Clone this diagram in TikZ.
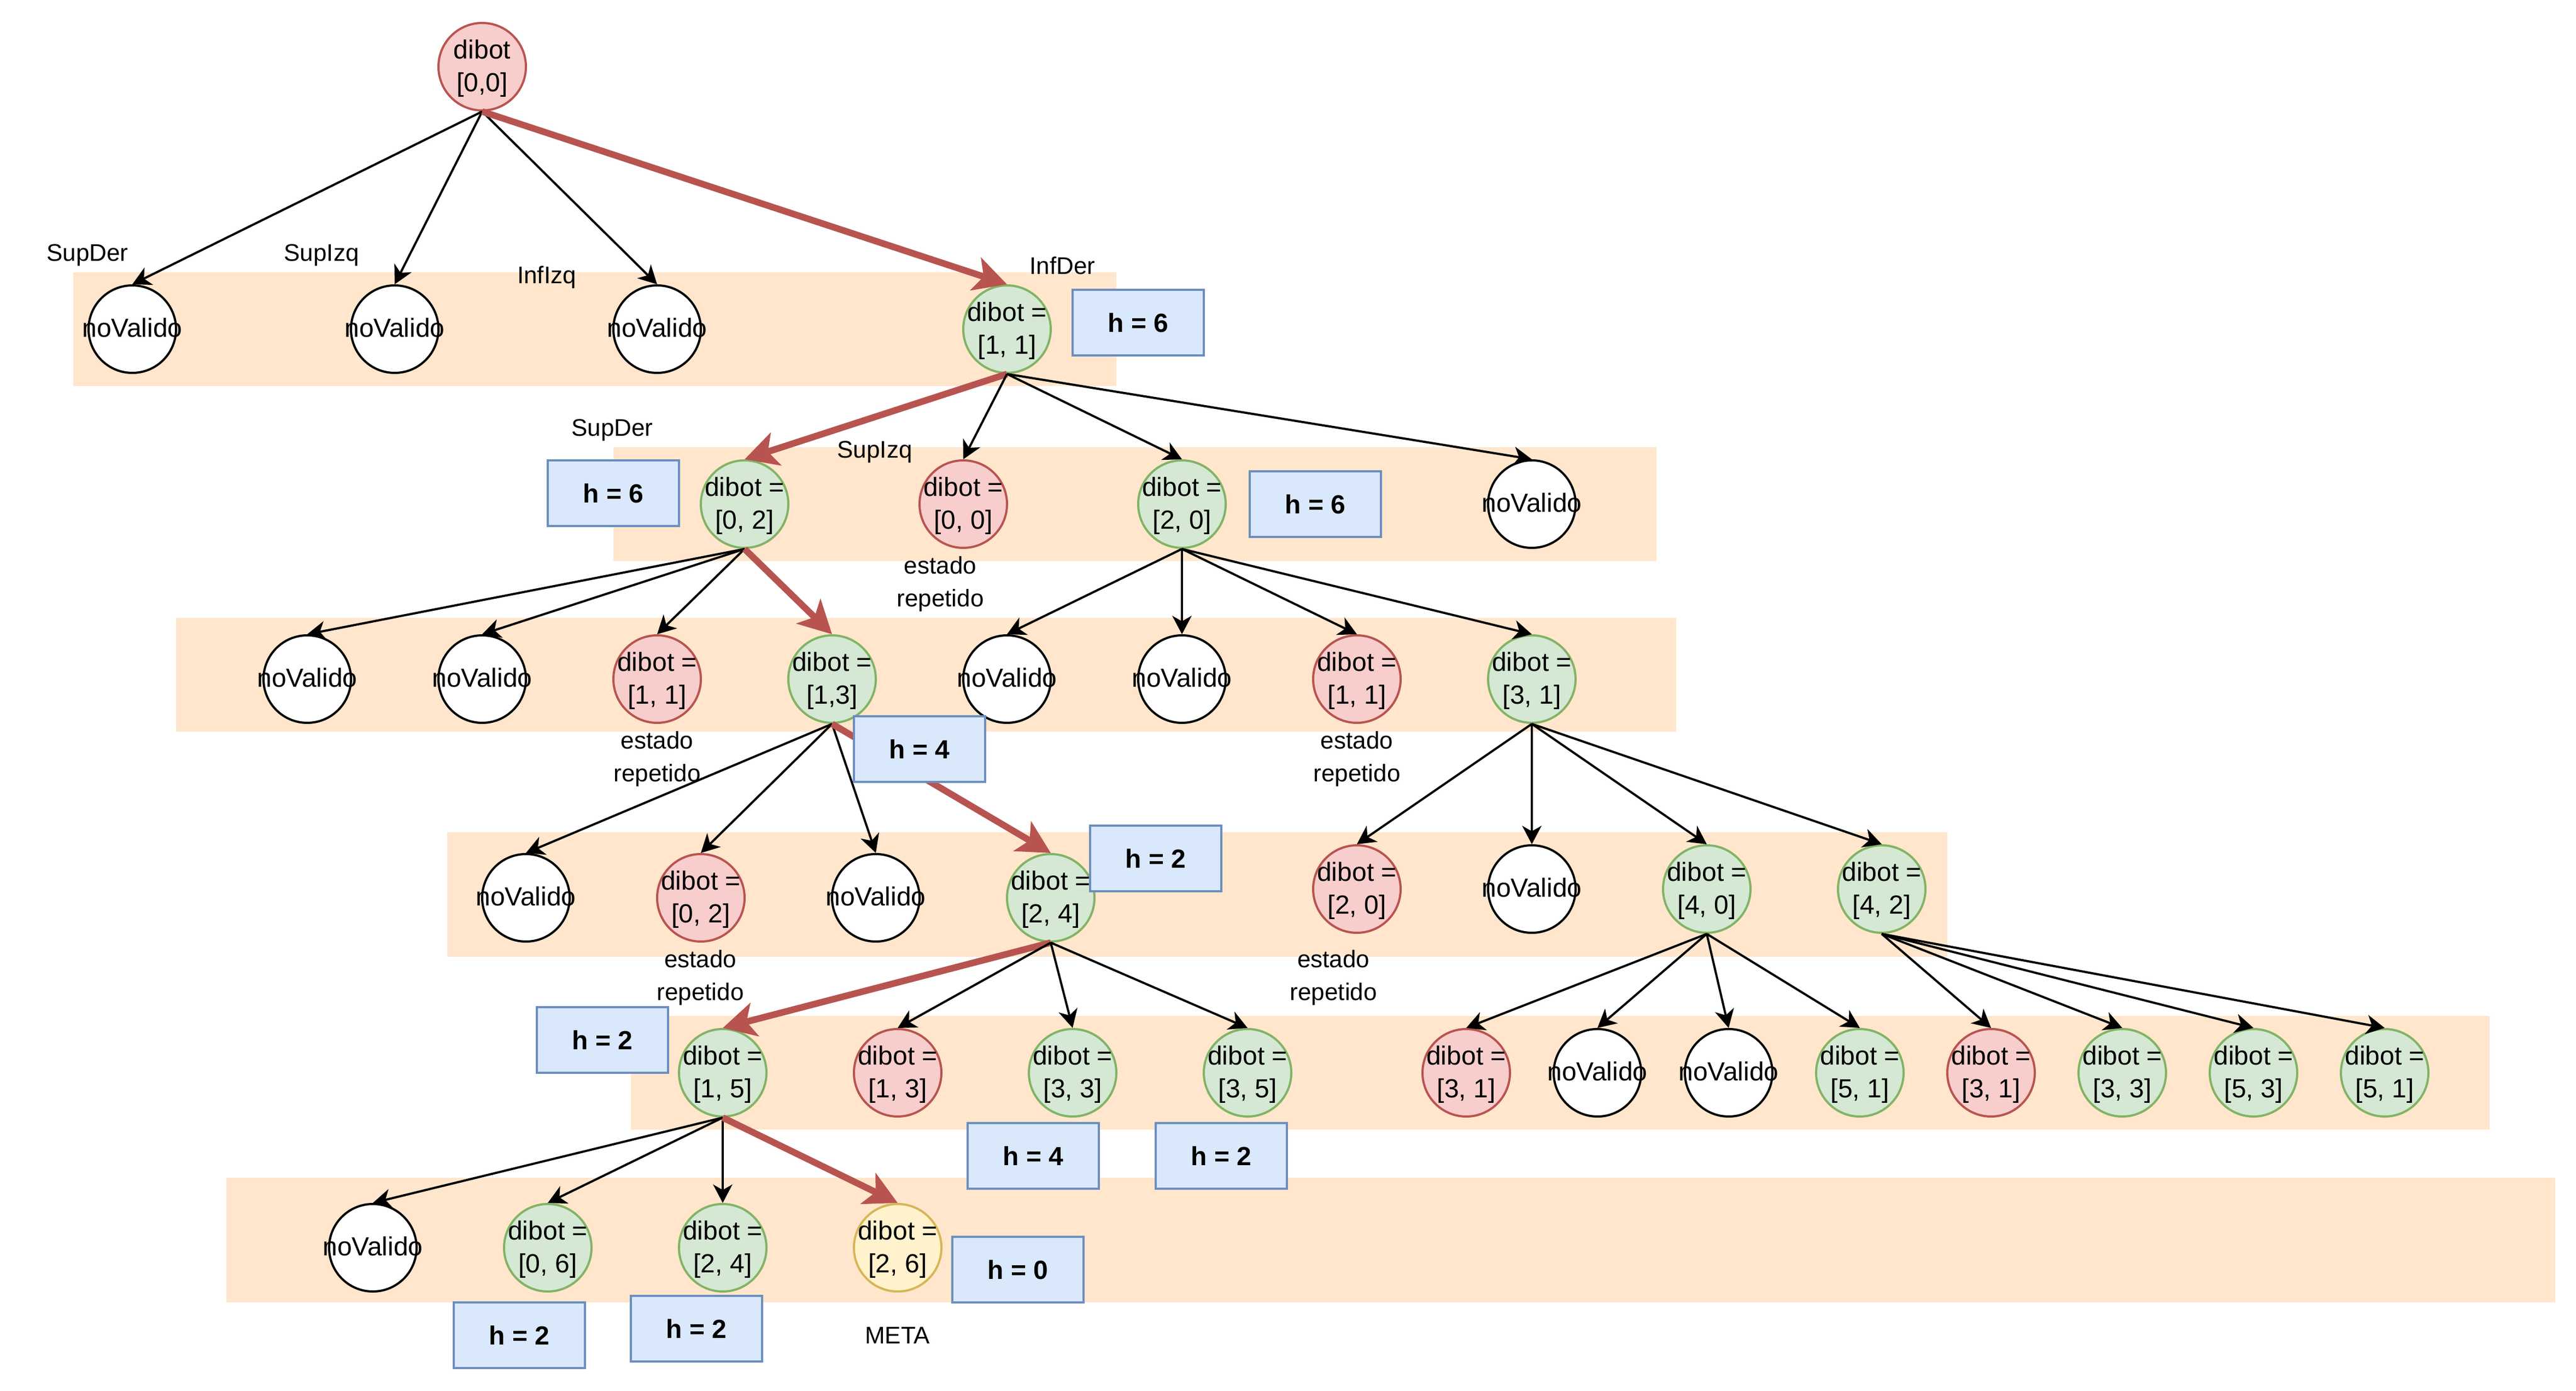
\documentclass[tikz,border=0pt]{standalone}
\usepackage{fontspec}
\setmainfont{Liberation Sans}
\usetikzlibrary{arrows.meta}
\definecolor{bandF}{HTML}{FFE6CC}
\definecolor{rdF}{HTML}{F8CECC}
\definecolor{rdS}{HTML}{B85450}
\definecolor{grF}{HTML}{D5E8D4}
\definecolor{grS}{HTML}{82B366}
\definecolor{ylF}{HTML}{FFF2CC}
\definecolor{ylS}{HTML}{D6B656}
\definecolor{blF}{HTML}{DAE8FC}
\definecolor{blS}{HTML}{6C8EBF}
\tikzset{
  base/.style={circle, minimum size=40pt, inner sep=0pt, line width=1pt},
  txt/.style={font=\fontsize{12}{15}\selectfont, align=center, inner sep=0pt, anchor=center},
  nv/.style={base, draw=black, fill=white, label={[txt, yshift=0.7pt]center:noValido}},
  gr/.style={base, draw=grS, fill=grF, label={[txt, yshift=-0.7pt]center:{dibot =\\{#1}}}},
  rd/.style={base, draw=rdS, fill=rdF, label={[txt, yshift=-0.7pt]center:{dibot =\\{#1}}}},
  yl/.style={base, draw=ylS, fill=ylF, label={[txt, yshift=-0.7pt]center:{dibot =\\{#1}}}},
  hbox/.style={draw=blS, fill=blF, line width=1pt, minimum width=60pt, minimum height=30pt, inner sep=0pt, font=\bfseries\fontsize{12}{14.4}\selectfont},
  band/.style={fill=bandF},
  lbl/.style={font=\fontsize{11}{14.8}\selectfont, inner sep=0pt, text height=7.9pt, text depth=0pt},
  lbltwo/.style={font=\fontsize{11}{14.8}\selectfont, inner sep=0pt, align=center},
  arr/.style={draw=black, line width=1pt, -{Stealth[length=8.4pt,width=8.8pt,inset=2.5pt]}},
  best/.style={draw=rdS, line width=3pt, -{Stealth[length=15pt,width=15.6pt,inset=3.8pt]}}
}
\begin{document}
\begin{tikzpicture}[x=1pt,y=-1pt]
\useasboundingbox (0,0) rectangle (1178,636);
% bands
\fill[band] (33.5,124.5) rectangle (510.5,176.5);
\fill[band] (280.5,204.5) rectangle (757.5,256.5);
\fill[band] (80.5,282.5) rectangle (766.5,334.5);
\fill[band] (204.5,380.5) rectangle (890.5,437.5);
\fill[band] (288.5,464.5) rectangle (1138.5,516.5);
\fill[band] (103.5,538.5) rectangle (1168.5,595.5);
% root
\node[base, draw=rdS, fill=rdF, label={[txt, yshift=-0.7pt]center:{dibot\\{[0,0]}}}] (r) at (220.5,30.5) {};
% level 1
\node[nv] (n1a) at (60.5,150.5) {};
\node[nv] (n1b) at (180.5,150.5) {};
\node[nv] (n1c) at (300.5,150.5) {};
\node[gr={[1, 1]}] (n1d) at (460.5,150.5) {};
% level 2
\node[gr={[0, 2]}] (n2a) at (340.5,230.5) {};
\node[rd={[0, 0]}] (n2b) at (440.5,230.5) {};
\node[gr={[2, 0]}] (n2c) at (540.5,230.5) {};
\node[nv] (n2d) at (700.5,230.5) {};
% level 3
\node[nv] (n3a) at (140.5,310.5) {};
\node[nv] (n3b) at (220.5,310.5) {};
\node[rd={[1, 1]}] (n3c) at (300.5,310.5) {};
\node[gr={[1,3]}] (n3d) at (380.5,310.5) {};
\node[nv] (n3e) at (460.5,310.5) {};
\node[nv] (n3f) at (540.5,310.5) {};
\node[rd={[1, 1]}] (n3g) at (620.5,310.5) {};
\node[gr={[3, 1]}] (n3h) at (700.5,310.5) {};
% level 4
\node[nv] (n4a) at (240.5,410.5) {};
\node[rd={[0, 2]}] (n4b) at (320.5,410.5) {};
\node[nv] (n4c) at (400.5,410.5) {};
\node[gr={[2, 4]}] (n4d) at (480.5,410.5) {};
\node[rd={[2, 0]}] (n4e) at (620.5,406.5) {};
\node[nv] (n4f) at (700.5,406.5) {};
\node[gr={[4, 0]}] (n4g) at (780.5,406.5) {};
\node[gr={[4, 2]}] (n4h) at (860.5,406.5) {};
% level 5
\node[gr={[1, 5]}] (n5a) at (330.5,490.5) {};
\node[rd={[1, 3]}] (n5b) at (410.5,490.5) {};
\node[gr={[3, 3]}] (n5c) at (490.5,490.5) {};
\node[gr={[3, 5]}] (n5d) at (570.5,490.5) {};
\node[rd={[3, 1]}] (n5e) at (670.5,490.5) {};
\node[nv] (n5f) at (730.5,490.5) {};
\node[nv] (n5g) at (790.5,490.5) {};
\node[gr={[5, 1]}] (n5h) at (850.5,490.5) {};
\node[rd={[3, 1]}] (n5i) at (910.5,490.5) {};
\node[gr={[3, 3]}] (n5j) at (970.5,490.5) {};
\node[gr={[5, 3]}] (n5k) at (1030.5,490.5) {};
\node[gr={[5, 1]}] (n5l) at (1090.5,490.5) {};
% level 6
\node[nv] (n6a) at (170.5,570.5) {};
\node[gr={[0, 6]}] (n6b) at (250.5,570.5) {};
\node[gr={[2, 4]}] (n6c) at (330.5,570.5) {};
\node[yl={[2, 6]}] (n6d) at (410.5,570.5) {};
% edges
\draw[arr] (r.south) -- (n1a.north);
\draw[arr] (r.south) -- (n1b.north);
\draw[arr] (r.south) -- (n1c.north);
\draw[best] (r.south) -- (n1d.north);
\draw[best] (n1d.south) -- (n2a.north);
\draw[arr] (n1d.south) -- (n2b.north);
\draw[arr] (n1d.south) -- (n2c.north);
\draw[arr] (n1d.south) -- (n2d.north);
\draw[arr] (n2a.south) -- (n3a.north);
\draw[arr] (n2a.south) -- (n3b.north);
\draw[arr] (n2a.south) -- (n3c.north);
\draw[best] (n2a.south) -- (n3d.north);
\draw[arr] (n2c.south) -- (n3e.north);
\draw[arr] (n2c.south) -- (n3f.north);
\draw[arr] (n2c.south) -- (n3g.north);
\draw[arr] (n2c.south) -- (n3h.north);
\draw[arr] (n3d.south) -- (n4a.north);
\draw[arr] (n3d.south) -- (n4b.north);
\draw[arr] (n3d.south) -- (n4c.north);
\draw[best] (n3d.south) -- (n4d.north);
\draw[arr] (n3h.south) -- (n4e.north);
\draw[arr] (n3h.south) -- (n4f.north);
\draw[arr] (n3h.south) -- (n4g.north);
\draw[arr] (n3h.south) -- (n4h.north);
\draw[best] (n4d.south) -- (n5a.north);
\draw[arr] (n4d.south) -- (n5b.north);
\draw[arr] (n4d.south) -- (n5c.north);
\draw[arr] (n4d.south) -- (n5d.north);
\draw[arr] (n4g.south) -- (n5e.north);
\draw[arr] (n4g.south) -- (n5f.north);
\draw[arr] (n4g.south) -- (n5g.north);
\draw[arr] (n4g.south) -- (n5h.north);
\draw[arr] (n4h.south) -- (n5i.north);
\draw[arr] (n4h.south) -- (n5j.north);
\draw[arr] (n4h.south) -- (n5k.north);
\draw[arr] (n4h.south) -- (n5l.north);
\draw[arr] (n5a.south) -- (n6a.north);
\draw[arr] (n5a.south) -- (n6b.north);
\draw[arr] (n5a.south) -- (n6c.north);
\draw[best] (n5a.south) -- (n6d.north);
% h boxes
\node[hbox] (h1) at (520.5,147.5) {h = 6};
\node[hbox] (h2) at (280.5,225.5) {h = 6};
\node[hbox] (h3) at (601.5,230.5) {h = 6};
\node[hbox] (h4) at (420.5,342.5) {h = 4};
\node[hbox] (h5) at (528.5,392.5) {h = 2};
\node[hbox] (h6) at (275.5,475.5) {h = 2};
\node[hbox] (h7) at (472.5,528.5) {h = 4};
\node[hbox] (h8) at (558.5,528.5) {h = 2};
\node[hbox] (h9) at (465.5,580.5) {h = 0};
\node[hbox] (h10) at (237.5,610.5) {h = 2};
\node[hbox] (h11) at (318.5,607.5) {h = 2};
% labels
\node[lbl] (t1) at (40,115.4) {SupDer};
\node[lbl] (t2) at (147,115.4) {SupIzq};
\node[lbl] (t3) at (250,125.6) {InfIzq};
\node[lbl] (t4) at (485.9,121.4) {InfDer};
\node[lbl] (t5) at (280,195.4) {SupDer};
\node[lbl] (t6) at (400,205.5) {SupIzq};
\node[lbl] (meta) at (410.4,610.4) {META};
\node[lbltwo] (e1) at (430,267.05) {estado\\repetido};
\node[lbltwo] (e2) at (300.5,347.05) {estado\\repetido};
\node[lbltwo] (e3) at (620.5,347.05) {estado\\repetido};
\node[lbltwo] (e4) at (320.3,447.05) {estado\\repetido};
\node[lbltwo] (e5) at (609.8,447.05) {estado\\repetido};
\end{tikzpicture}
\end{document}
